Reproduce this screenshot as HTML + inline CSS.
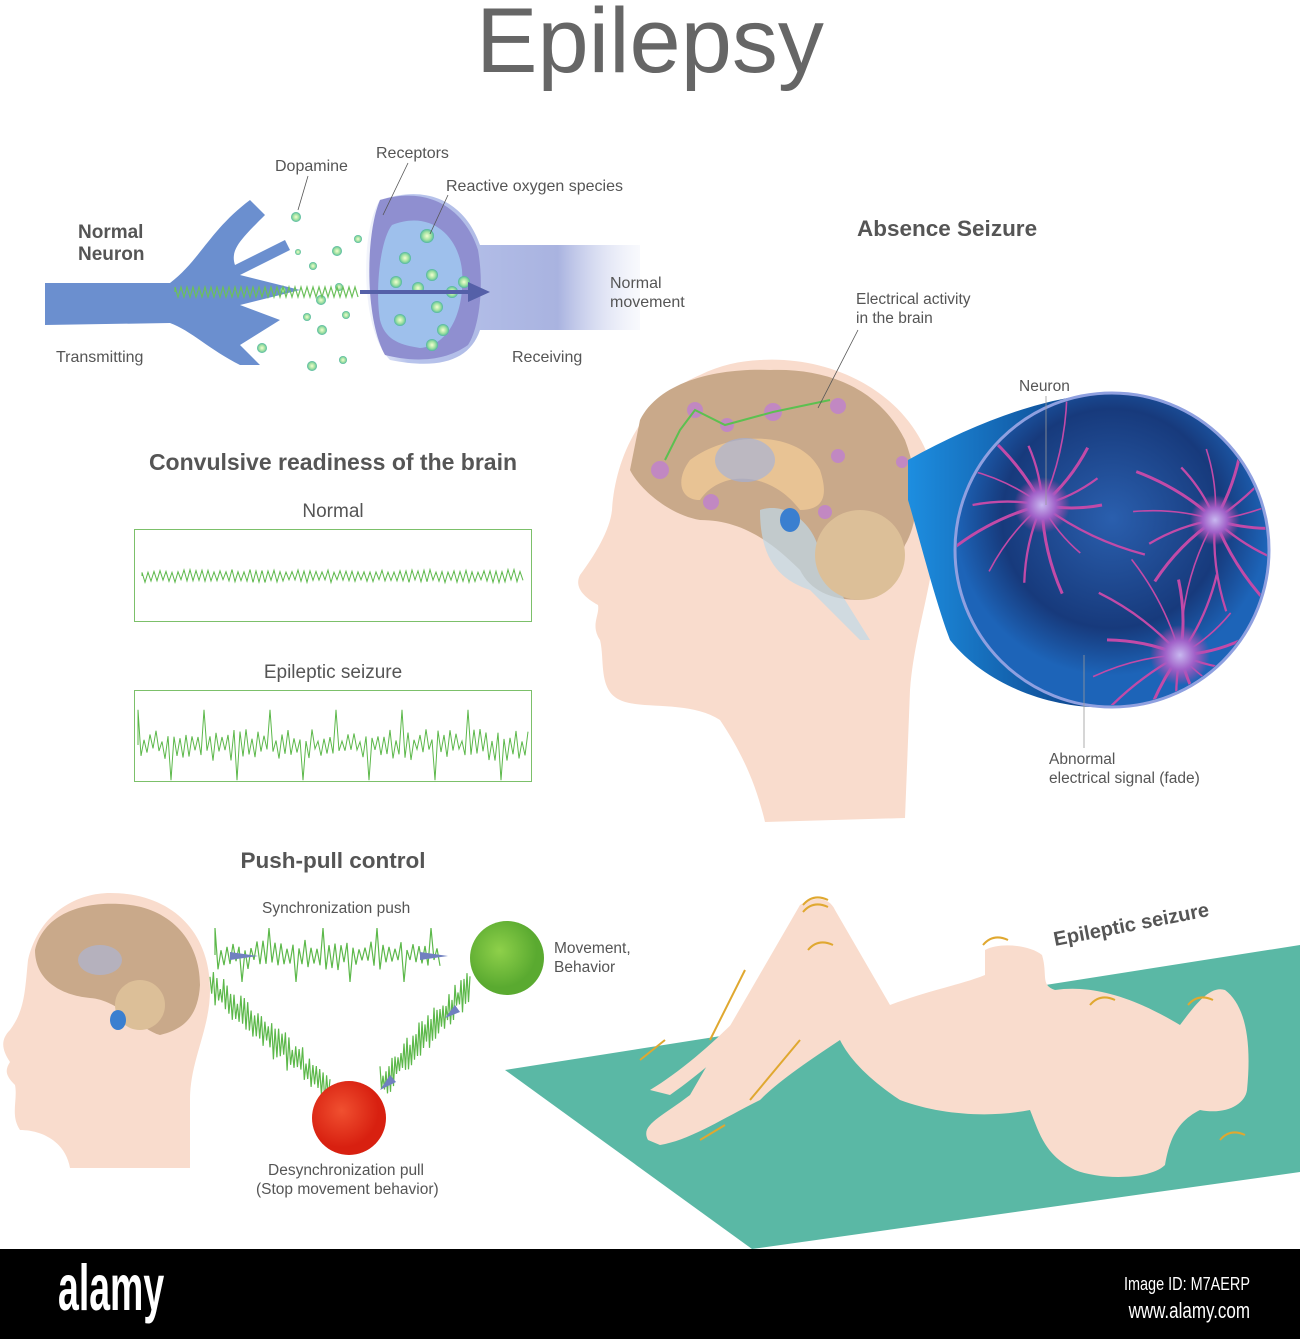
<!DOCTYPE html>
<html><head><meta charset="utf-8"><style>
body{margin:0;background:#fff}
svg{display:block}
text{font-family:"Liberation Sans",sans-serif}
</style></head><body>
<svg id="s" width="1300" height="1339" viewBox="0 0 1300 1339" xmlns="http://www.w3.org/2000/svg">
<defs>
<linearGradient id="axon" x1="0" x2="1"><stop offset="0" stop-color="#c8d0ee" stop-opacity="0.2"/><stop offset="0.15" stop-color="#b8c4ec"/><stop offset="0.7" stop-color="#a9b3e0"/><stop offset="1" stop-color="#dfe3f5" stop-opacity="0.2"/></linearGradient>
<radialGradient id="dot"><stop offset="0" stop-color="#f4ffd0"/><stop offset="0.6" stop-color="#9ee0a0"/><stop offset="1" stop-color="#4fb6a0"/></radialGradient>
<radialGradient id="circ" cx="0.5" cy="0.4"><stop offset="0" stop-color="#2a5fae"/><stop offset="0.7" stop-color="#173a7c"/><stop offset="1" stop-color="#1d64b8"/></radialGradient>
<linearGradient id="cone" x1="0" x2="1"><stop offset="0" stop-color="#1d8ee0"/><stop offset="1" stop-color="#0b3a80"/></linearGradient>
<radialGradient id="soma"><stop offset="0" stop-color="#c8b8f0"/><stop offset="0.5" stop-color="#a060c8"/><stop offset="1" stop-color="#c040a8" stop-opacity="0"/></radialGradient>
<radialGradient id="gc" cx="0.4" cy="0.4"><stop offset="0" stop-color="#8ed04a"/><stop offset="1" stop-color="#5aaa30"/></radialGradient>
<radialGradient id="rc" cx="0.4" cy="0.4"><stop offset="0" stop-color="#f05030"/><stop offset="1" stop-color="#d82010"/></radialGradient>
<clipPath id="cc"><circle cx="1112" cy="550" r="155"/></clipPath>
</defs>

<text x="650" y="72" text-anchor="middle" font-size="92" fill="#666">Epilepsy</text>

<!-- neuron top -->
<path d="M45 283 L170 283 C200 260 210 230 250 200 L265 215 C240 240 230 250 235 265 L285 240 L290 250 L240 275 L300 290 L240 305 L280 320 L240 345 L260 365 L240 365 C210 350 190 330 170 323 L45 325 Z" fill="#6b8fcf"/>
<path d="M380 200 C440 180 470 215 480 245 L640 245 L640 330 L480 330 C470 360 440 370 390 360 C360 330 360 230 380 200 Z" fill="url(#axon)"/>
<path d="M380 200 C430 185 465 210 478 250 C485 290 478 330 468 345 C440 365 405 360 385 355 C365 320 365 235 380 200 Z" fill="#8f8fd0"/>
<path d="M392 225 C430 210 458 235 462 270 C465 310 450 345 420 348 C400 345 385 340 380 320 C375 290 380 240 392 225 Z" fill="#9ec0ec"/>
<g id="dots"></g>
<path id="w0" fill="none" stroke="#6cc05a" stroke-width="1.2"/>
<line x1="360" y1="292" x2="470" y2="292" stroke="#5560a8" stroke-width="4"/>
<polygon points="468,282 490,292 468,302" fill="#5560a8"/>
<g stroke="#555" stroke-width="0.8"><line x1="308" y1="176" x2="298" y2="210"/><line x1="408" y1="163" x2="383" y2="215"/><line x1="448" y1="195" x2="430" y2="234"/></g>
<g font-size="16" fill="#555">
<text x="275" y="171">Dopamine</text><text x="376" y="158">Receptors</text><text x="446" y="191">Reactive oxygen species</text>
<text x="56" y="362">Transmitting</text><text x="512" y="362">Receiving</text>
<text x="610" y="288">Normal</text><text x="610" y="307">movement</text>
</g>
<text x="78" y="238" font-size="19" font-weight="bold" fill="#555">Normal</text>
<text x="78" y="260" font-size="19" font-weight="bold" fill="#555">Neuron</text>

<!-- EEG -->
<text x="333" y="470" text-anchor="middle" font-size="23" font-weight="bold" fill="#555">Convulsive readiness of the brain</text>
<text x="333" y="517" text-anchor="middle" font-size="19" fill="#555">Normal</text>
<rect x="134.5" y="529.5" width="397" height="92" fill="none" stroke="#7cc06a"/>
<text x="333" y="678" text-anchor="middle" font-size="19" fill="#555">Epileptic seizure</text>
<rect x="134.5" y="690.5" width="397" height="91" fill="none" stroke="#7cc06a"/>
<path id="w1" fill="none" stroke="#5cb84a" stroke-width="1"/>
<path id="w2" fill="none" stroke="#5cb84a" stroke-width="1"/>

<!-- head right -->
<text x="857" y="236" font-size="22.5" font-weight="bold" fill="#555">Absence Seizure</text>
<path d="M760 360 C840 355 920 400 935 480 C945 560 915 620 910 690 L905 818 L765 822 C755 780 740 750 720 720 C690 700 640 710 620 700 C598 690 605 660 600 640 C590 625 600 615 598 605 C580 595 575 585 580 575 C595 555 610 530 612 510 C615 460 640 400 700 375 C720 365 740 361 760 360 Z" fill="#f9dccd"/>
<path d="M640 420 C660 380 720 368 770 370 C830 368 880 390 905 440 C920 480 920 520 905 545 C895 575 870 595 860 600 C830 600 810 590 800 570 C770 540 740 520 700 520 C670 515 640 490 630 470 Z" fill="#c9a98a"/>
<path d="M690 460 C730 430 800 430 820 470 C830 500 820 510 800 510 C770 470 720 470 700 500 C680 500 675 480 690 460 Z" fill="#f0c996" opacity="0.8"/>
<ellipse cx="745" cy="460" rx="30" ry="22" fill="#9fb0e0" opacity="0.6"/>
<path d="M760 510 C790 500 820 530 820 560 L870 640 L860 640 L810 590 C780 580 760 560 760 510 Z" fill="#bfd8e8" opacity="0.7"/>
<ellipse cx="860" cy="555" rx="45" ry="45" fill="#dcbf98"/>
<ellipse cx="790" cy="520" rx="10" ry="12" fill="#3a7fd0"/>
<g fill="#c080d0" opacity="0.8"><circle cx="660" cy="470" r="9"/><circle cx="695" cy="410" r="8"/><circle cx="773" cy="412" r="9"/><circle cx="838" cy="406" r="8"/><circle cx="727" cy="425" r="7"/><circle cx="711" cy="502" r="8"/><circle cx="825" cy="512" r="7"/><circle cx="838" cy="456" r="7"/><circle cx="902" cy="462" r="6"/></g>
<polyline points="665,460 680,430 695,410 725,425 773,412 830,400" fill="none" stroke="#5cc050" stroke-width="2"/>
<line x1="818" y1="408" x2="858" y2="330" stroke="#555" stroke-width="0.8"/>
<path d="M908 460 C980 420 1050 395 1112 393 L1112 707 C1060 710 990 690 950 640 C935 600 920 540 908 500 Z" fill="url(#cone)"/>
<circle cx="1112" cy="550" r="157" fill="url(#circ)" stroke="#8fa0e0" stroke-width="3"/>
<g id="neur" clip-path="url(#cc)"></g>
<circle cx="1042" cy="505" r="28" fill="url(#soma)"/><circle cx="1215" cy="520" r="25" fill="url(#soma)"/><circle cx="1180" cy="655" r="30" fill="url(#soma)"/>
<line x1="1046" y1="396" x2="1046" y2="505" stroke="#999" stroke-width="0.8"/>
<line x1="1084" y1="655" x2="1084" y2="748" stroke="#999" stroke-width="0.8"/>
<g font-size="15.5" fill="#555"><text x="856" y="304">Electrical activity</text><text x="856" y="323">in the brain</text>
<text x="1019" y="391">Neuron</text><text x="1049" y="764">Abnormal</text><text x="1049" y="783">electrical signal (fade)</text></g>

<!-- push pull -->
<text x="333" y="868" text-anchor="middle" font-size="22.5" font-weight="bold" fill="#555">Push-pull control</text>
<path d="M110 893 C170 893 210 930 210 990 C210 1030 190 1060 190 1100 L190 1168 L70 1168 C65 1140 40 1130 20 1130 C10 1115 18 1100 15 1085 C5 1075 5 1070 10 1062 C2 1050 0 1040 10 1030 C25 1010 25 990 28 960 C40 910 80 893 110 893 Z" fill="#f9dccd"/>
<path d="M35 950 C45 910 90 900 130 905 C170 910 200 940 200 985 C198 1020 180 1030 160 1035 C140 1030 120 1000 90 998 C60 995 35 980 35 950 Z" fill="#c9a98a"/>
<ellipse cx="140" cy="1005" rx="25" ry="25" fill="#dcbf98"/>
<ellipse cx="118" cy="1020" rx="8" ry="10" fill="#3a7fd0"/>
<ellipse cx="100" cy="960" rx="22" ry="15" fill="#a8b8e0" opacity="0.6"/>
<path id="w3" fill="none" stroke="#5cb84a" stroke-width="1.2"/>
<path id="w4" fill="none" stroke="#5cb84a" stroke-width="1.2"/>
<path id="w5" fill="none" stroke="#5cb84a" stroke-width="1.2"/>
<g fill="#7080c0"><polygon points="230,952 258,956 230,960"/><polygon points="420,952 448,956 420,960"/><polygon points="455,1005 445,1018 460,1012"/><polygon points="390,1075 380,1090 396,1082"/></g>
<circle cx="507" cy="958" r="37" fill="url(#gc)"/>
<circle cx="349" cy="1118" r="37" fill="url(#rc)"/>
<g font-size="15.5" fill="#555"><text x="262" y="913">Synchronization push</text><text x="554" y="953">Movement,</text><text x="554" y="972">Behavior</text>
<text x="268" y="1175">Desynchronization pull</text><text x="256" y="1194">(Stop movement behavior)</text></g>

<!-- mat & body -->
<polygon points="505,1070 1300,945 1300,1172 752,1249" fill="#5ab8a5"/>
<path d="M648 1140 C640 1125 660 1118 690 1095 L800 905 C815 895 830 898 835 910 L890 1005 C930 990 960 985 985 975 L985 950 C1000 942 1030 945 1042 955 C1048 975 1040 985 1055 990 C1090 985 1130 995 1180 1025 C1195 1005 1210 985 1225 990 C1245 1005 1252 1040 1247 1090 C1245 1105 1225 1115 1200 1110 C1180 1120 1170 1135 1165 1165 C1150 1180 1100 1180 1075 1170 C1045 1155 1040 1135 1030 1110 C990 1118 940 1115 900 1100 C870 1080 850 1060 840 1040 C810 1060 780 1080 760 1100 C720 1120 690 1140 660 1145 Z" fill="#f9dccd"/>
<path d="M650 1090 C700 1060 760 1000 795 950 L805 965 C770 1010 720 1060 670 1095 Z" fill="#f9dccd"/>
<text x="1055" y="946" font-size="20" font-weight="bold" fill="#555" transform="rotate(-11 1055 946)">Epileptic seizure</text>
<g stroke="#e0a830" stroke-width="2" fill="none"><path d="M803 905 q10 -12 25 -5"/><path d="M803 912 q10 -12 25 -5"/><path d="M808 950 q10 -12 25 -5"/><path d="M983 945 q10 -12 25 -5"/><path d="M1188 1005 q10 -12 25 -5"/><path d="M1220 1140 q10 -12 25 -5"/><path d="M1090 1005 q10 -12 25 -5"/><path d="M710 1040 L745 970"/><path d="M750 1100 L800 1040"/><path d="M700 1140 L725 1125"/><path d="M640 1060 L665 1040"/></g>

<!-- footer -->
<rect x="0" y="1249" width="1300" height="90" fill="#000"/>
<text x="0" y="0" font-size="48" font-weight="bold" fill="#fff" transform="translate(58 1310) scale(0.78 1.35)">alamy</text>
<text x="0" y="0" text-anchor="end" font-size="17" fill="#fff" transform="translate(1250 1290) scale(0.85 1.1)">Image ID: M7AERP</text>
<text x="0" y="0" text-anchor="end" font-size="20" fill="#fff" transform="translate(1250 1318) scale(0.85 1.1)">www.alamy.com</text>
</svg>
<script>
function zz(x0,x1,y,step,amp,f){let d="M"+x0+" "+y;let i=0;for(let x=x0;x<=x1;x+=step,i++){d+=" L"+x.toFixed(1)+" "+(y+(i%2?1:-1)*amp*f(x,i)).toFixed(1);}return d;}
let R=n=>{let s=Math.sin(n*12.9898)*43758.5;return s-Math.floor(s);};
document.getElementById('w0').setAttribute('d',zz(175,360,292,3,5,()=>1));
document.getElementById('w1').setAttribute('d',zz(142,524,576,3,6,(x,i)=>0.6+0.5*R(i)));
document.getElementById('w2').setAttribute('d',zz(138,528,745,3,8,(x,i)=>0.4+(i%11==0?4:R(i+5)*1.6)));
document.getElementById('w3').setAttribute('d',zz(215,440,955,3,9,(x,i)=>0.5+(i%9==0?2.5:R(i)*1.2)));
function diag(x0,y0,x1,y1,n,amp){let d="";for(let k=0;k<=n;k++){let t=k/n,x=x0+(x1-x0)*t,y=y0+(y1-y0)*t+(k%2?1:-1)*amp*(0.4+R(k+x0)*1.2);d+=(k?" L":"M")+x.toFixed(1)+" "+y.toFixed(1);}return d;}
document.getElementById('w4').setAttribute('d',diag(210,985,330,1090,70,12));
document.getElementById('w5').setAttribute('d',diag(380,1085,470,985,60,12));
let g=document.getElementById('dots'),s="";
[[296,217,5],[313,266,4],[321,300,5],[307,317,4],[322,330,5],[262,348,5],[312,366,5],[343,360,4],[346,315,4],[339,287,4],[337,251,5],[358,239,4],[298,252,3],[283,290,3],[427,236,7],[405,258,6],[432,275,6],[396,282,6],[418,288,6],[452,292,6],[400,320,6],[437,307,6],[443,330,6],[432,345,6],[464,282,6]].forEach(p=>s+=`<circle cx="${p[0]}" cy="${p[1]}" r="${p[2]}" fill="url(#dot)"/>`);
g.innerHTML=s;
let ng=document.getElementById('neur'),t="";
[[1042,505],[1215,520],[1180,655]].forEach((c,j)=>{for(let k=0;k<14;k++){let a=k/14*6.283+j,l=60+R(k+j*20)*60;let mx=c[0]+Math.cos(a+0.2)*l*0.5,my=c[1]+Math.sin(a+0.2)*l*0.5;t+=`<path d="M${c[0]} ${c[1]} Q${mx} ${my} ${c[0]+Math.cos(a)*l} ${c[1]+Math.sin(a)*l}" stroke="#c24aa8" stroke-width="${3-k%3*0.7}" fill="none"/>`;}});
ng.innerHTML=t;
</script>
</body></html>
